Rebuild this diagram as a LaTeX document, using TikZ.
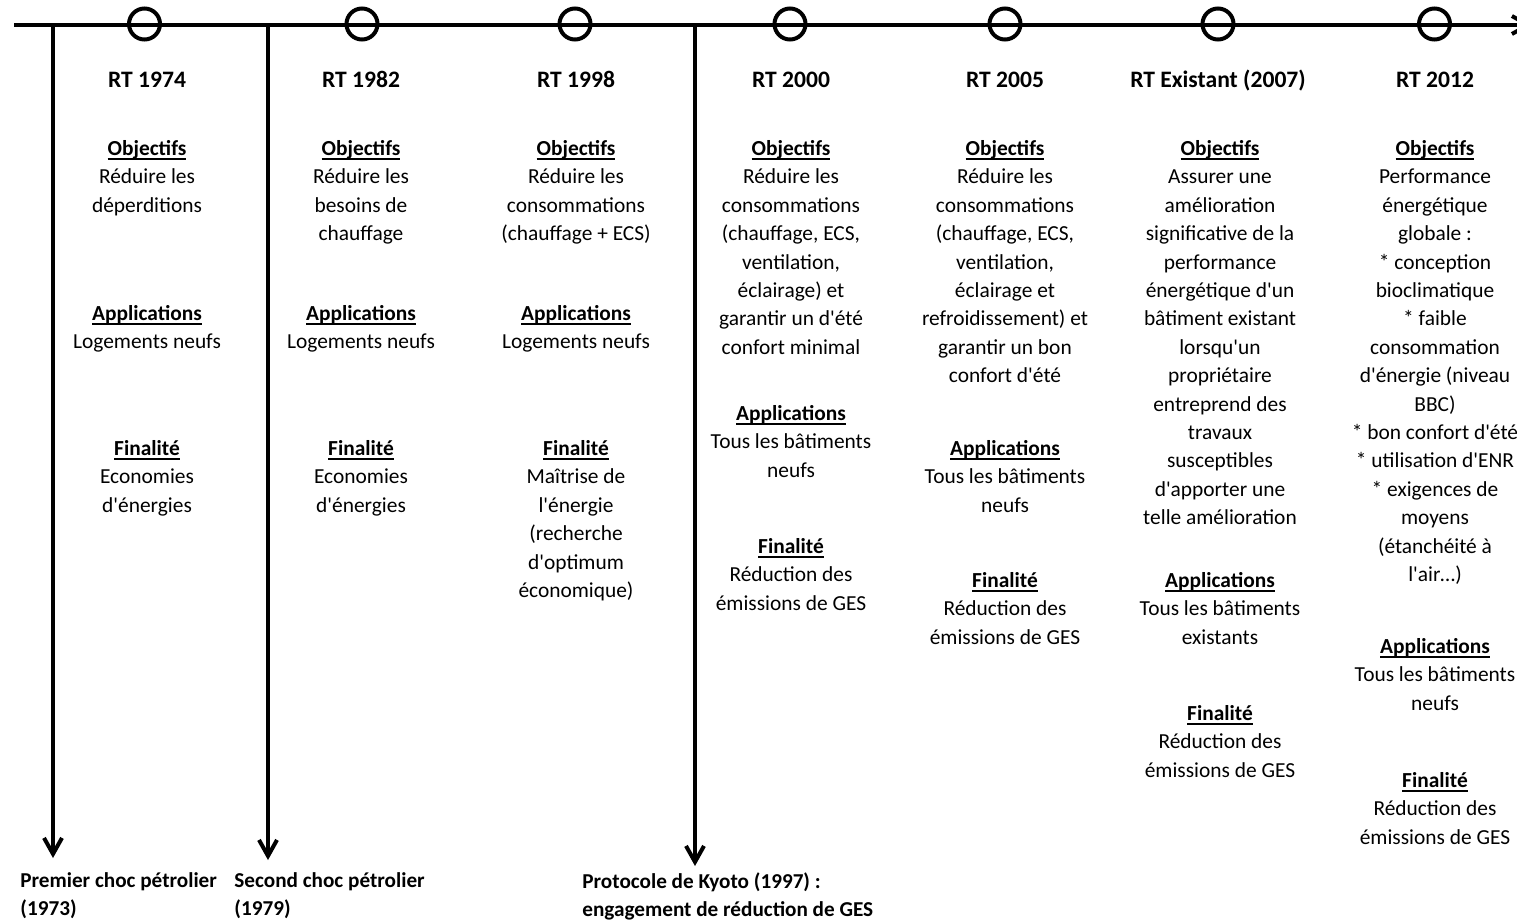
\documentclass[tikz,border=0pt]{standalone}
\usepackage{fontspec}
\setmainfont{Carlito}
\usetikzlibrary{arrows.meta}
\newcommand\sq{\textquotesingle}
\newcommand\hd[1]{{\bfseries\setbox0\hbox{#1}\rlap{\vrule width\wd0 height -1.3pt depth 2.2pt}\box0}}
\begin{document}
\begin{tikzpicture}[x=0.5pt,y=-0.5pt,
  evarrow/.style={line width=2pt,-{Straight Barb[length=8pt,width=9pt]}},
  milestone/.style={draw,circle,line width=2pt,inner sep=0pt,minimum size=15.5pt},
  title/.style={font=\fontsize{11.8}{14}\selectfont\bfseries,anchor=base,inner sep=0pt},
  body/.style={font=\fontsize{10.7}{14.2}\selectfont,align=center,anchor=north,inner sep=0pt,yshift=7pt,
    execute at begin node={\rule{0pt}{9pt}}},
  event/.style={font=\fontsize{10.6}{14.2}\selectfont\bfseries,align=left,anchor=north west,inner sep=0pt,yshift=7.5pt,
    execute at begin node={\rule{0pt}{9pt}}}]
\useasboundingbox (0,0) rectangle (1517,920);
\clip (0,0) rectangle (1517,920);
% main axis
\coordinate (L) at (14,25);
\coordinate (R) at (1532,25);
\draw[evarrow] (L) -- (R);
% milestones
\foreach \x [count=\i] in {144.5,362,575,790,1005,1218,1434.5}
  \node[milestone] (c\i) at (\x,24) {};
% event arrows
\coordinate (t1) at (53,25);
\coordinate (t2) at (268,25);
\coordinate (t3) at (695,25);
\coordinate (b1) at (53,858);
\coordinate (b2) at (268,860);
\coordinate (b3) at (695,866);
\draw[evarrow] (t1) -- (b1);
\draw[evarrow] (t2) -- (b2);
\draw[evarrow] (t3) -- (b3);
\node[event] (ev1) at (20,887) {Premier choc pétrolier\\(1973)};
\node[event] (ev2) at (234,887) {Second choc pétrolier\\(1979)};
\node[event] (ev3) at (582,887) {Protocole de Kyoto (1997) :\\engagement de réduction de GES};
% titles
\node[title] (rt1) at (147,87.5) {RT 1974};
\node[title] (rt2) at (361,87.5) {RT 1982};
\node[title] (rt3) at (576,87.5) {RT 1998};
\node[title] (rt4) at (791,87.5) {RT 2000};
\node[title] (rt5) at (1005,87.5) {RT 2005};
\node[title] (rt6) at (1218,87.5) {RT Existant (2007)};
\node[title] (rt7) at (1435,87.5) {RT 2012};
% column 1
\node[body] (o1) at (147,154) {\hd{Objectifs}\\Réduire les\\déperditions};
\node[body] (a1) at (147,319) {\hd{Applications}\\Logements neufs};
\node[body] (f1) at (147,454) {\hd{Finalité}\\Economies\\d\sq énergies};
% column 2
\node[body] (o2) at (361,154) {\hd{Objectifs}\\Réduire les\\besoins de\\chauffage};
\node[body] (a2) at (361,319) {\hd{Applications}\\Logements neufs};
\node[body] (f2) at (361,454) {\hd{Finalité}\\Economies\\d\sq énergies};
% column 3
\node[body] (o3) at (576,154) {\hd{Objectifs}\\Réduire les\\consommations\\(chauffage + ECS)};
\node[body] (a3) at (576,319) {\hd{Applications}\\Logements neufs};
\node[body] (f3) at (576,454) {\hd{Finalité}\\Maîtrise de\\l\sq énergie\\(recherche\\d\sq optimum\\économique)};
% column 4
\node[body] (o4) at (791,154) {\hd{Objectifs}\\Réduire les\\consommations\\(chauffage, ECS,\\ventilation,\\éclairage) et\\garantir un d\sq été\\confort minimal};
\node[body] (a4) at (791,419) {\hd{Applications}\\Tous les bâtiments\\neufs};
\node[body] (f4) at (791,552) {\hd{Finalité}\\Réduction des\\émissions de GES};
% column 5
\node[body] (o5) at (1005,154) {\hd{Objectifs}\\Réduire les\\consommations\\(chauffage, ECS,\\ventilation,\\éclairage et\\refroidissement) et\\garantir un bon\\confort d\sq été};
\node[body] (a5) at (1005,454) {\hd{Applications}\\Tous les bâtiments\\neufs};
\node[body] (f5) at (1005,586) {\hd{Finalité}\\Réduction des\\émissions de GES};
% column 6
\node[body] (o6) at (1220,154) {\hd{Objectifs}\\Assurer une\\amélioration\\significative de la\\performance\\énergétique d\sq un\\bâtiment existant\\lorsqu\sq un\\propriétaire\\entreprend des\\travaux\\susceptibles\\d\sq apporter une\\telle amélioration};
\node[body] (a6) at (1220,586) {\hd{Applications}\\Tous les bâtiments\\existants};
\node[body] (f6) at (1220,719) {\hd{Finalité}\\Réduction des\\émissions de GES};
% column 7
\node[body] (o7) at (1435,154) {\hd{Objectifs}\\Performance\\énergétique\\globale :\\* conception\\bioclimatique\\* faible\\consommation\\d\sq énergie (niveau\\BBC)\\* bon confort d\sq été\\* utilisation d\sq ENR\\* exigences de\\moyens\\(étanchéité à\\l\sq air…)};
\node[body] (a7) at (1435,652) {\hd{Applications}\\Tous les bâtiments\\neufs};
\node[body] (f7) at (1435,786) {\hd{Finalité}\\Réduction des\\émissions de GES};
\end{tikzpicture}
\end{document}
